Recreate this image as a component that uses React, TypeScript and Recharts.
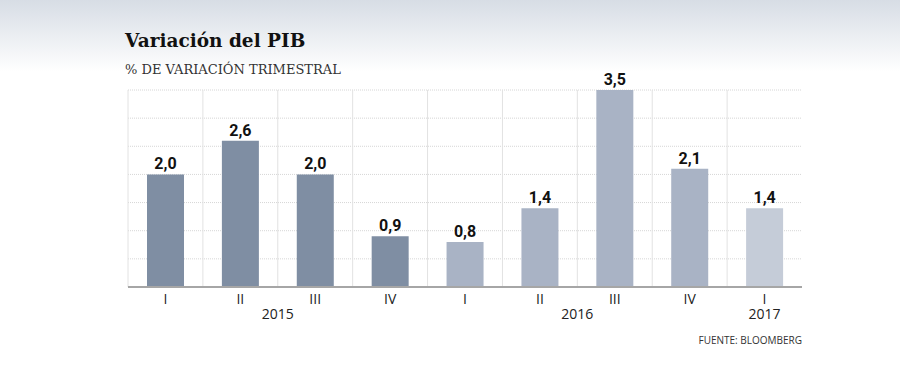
import React from "react";
import { BarChart, Bar, XAxis, YAxis, CartesianGrid, Cell, LabelList } from "recharts";

const quarters = ["I", "II", "III", "IV", "I", "II", "III", "IV", "I"];
const yearOf = [2015, 2015, 2015, 2015, 2016, 2016, 2016, 2016, 2017];
const yearNames = ["2015", "2016", "2017"];
const values = [2.0, 2.6, 2.0, 0.9, 0.8, 1.4, 3.5, 2.1, 1.4];
const yTicks = [0, 0.5, 1, 1.5, 2, 2.5, 3, 3.5];
const yearColors: Record<number, string> = { 2015: "#7f8ea3", 2016: "#a9b3c5", 2017: "#c5ccd8" };

const data = quarters.map((q, i) => ({ key: `${yearOf[i]}-${q}-${i}`, q, value: values[i], color: yearColors[yearOf[i]] }));

const SANS = "'Open Sans', 'Noto Sans', sans-serif";
const CHART_W = 900;
const M_LEFT = 128;
const M_RIGHT = 98;
const STEP = (CHART_W - M_LEFT - M_RIGHT) / quarters.length;

const QuarterTick = (props: any) => {
  const { x, y, index } = props;
  const yr = String(yearOf[index]);
  const isFirst = index === 0 || yearOf[index - 1] !== yearOf[index];
  const count = yearOf.filter((v) => String(v) === yr).length;
  const yearX = x + ((count - 1) * STEP) / 2;
  return (
    <g>
      <text x={x} y={y + 17} textAnchor="middle" fontFamily={SANS} fontSize={14} fill="#222">{quarters[index]}</text>
      {isFirst && yearNames.includes(yr) ? (
        <text x={yearX} y={y + 32} textAnchor="middle" fontFamily={SANS} fontSize={14} fill="#222">{yr}</text>
      ) : null}
    </g>
  );
};

export default function App() {
  const n = quarters.length;
  return (
    <div style={{ position: "absolute", left: 0, top: 0, width: 900, height: 376, background: "linear-gradient(to bottom, #d7dde5 0px, #ffffff 72px)", overflow: "hidden" }}>
      <div style={{ position: "absolute", left: 125, top: 30, fontFamily: "'DejaVu Serif', serif", fontWeight: "bold", fontSize: 18.5, color: "#111", lineHeight: "22px", whiteSpace: "nowrap" }}>Variación del PIB</div>
      <div style={{ position: "absolute", left: 125, top: 61, fontFamily: "'DejaVu Serif', serif", fontSize: 13, color: "#333", lineHeight: "18px", whiteSpace: "nowrap" }}>% DE VARIACIÓN TRIMESTRAL</div>
      <div style={{ position: "absolute", right: 98, top: 333, fontFamily: SANS, fontSize: 10, color: "#333", lineHeight: "14px", whiteSpace: "nowrap" }}>FUENTE: BLOOMBERG</div>
      <div style={{ position: "absolute", left: 0, top: 0 }}>
        <BarChart width={CHART_W} height={376} data={data} margin={{ top: 90, left: M_LEFT, right: M_RIGHT, bottom: 49 }} barSize={37}>
          <CartesianGrid vertical={false} stroke="#d6d6d6" strokeDasharray="1 1" />
          <CartesianGrid
            horizontal={false}
            stroke="#e2e2e2"
            verticalCoordinatesGenerator={({ offset }: any) =>
              Array.from({ length: n }, (_, i) => offset.left + (i * offset.width) / n)
            }
          />
          <YAxis hide domain={[0, 3.5]} ticks={yTicks} />
          <XAxis dataKey="key" height={40} tickLine={false} axisLine={{ stroke: "#a6a6a6", strokeWidth: 2 }} tick={<QuarterTick />} interval={0} tickSize={0} tickMargin={0} />
          <Bar dataKey="value" isAnimationActive={false}>
            {data.map((d) => (
              <Cell key={d.key} fill={d.color} />
            ))}
            <LabelList dataKey="value" position="top" offset={5} formatter={(v: any) => Number(v).toFixed(1).replace(".", ",")} style={{ fontFamily: "Roboto, sans-serif", fontWeight: "bold", fontSize: 16, fill: "#111" }} />
          </Bar>
        </BarChart>
      </div>
    </div>
  );
}
